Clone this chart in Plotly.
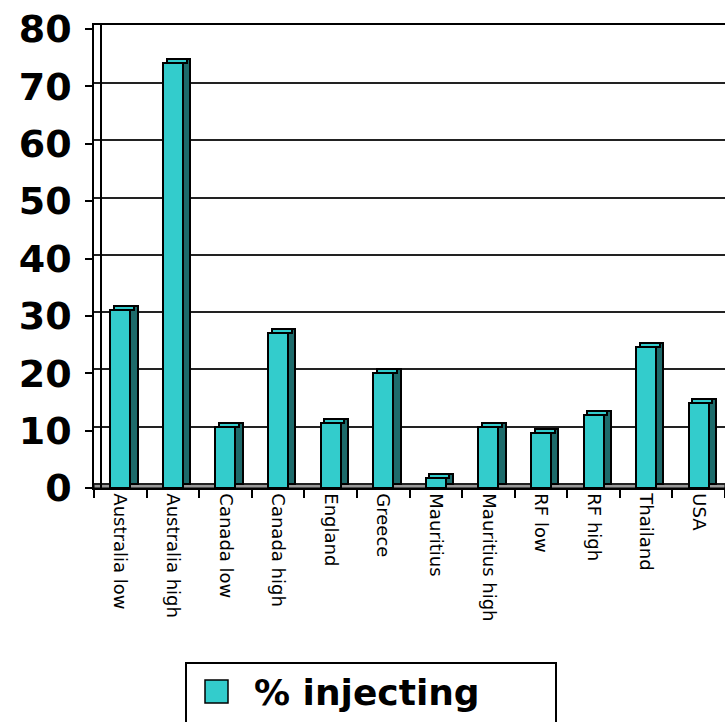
import plotly.graph_objects as go

# Share of people who inject, by site
categories = ["Australia low", "Australia high", "Canada low", "Canada high",
              "England", "Greece", "Mauritius", "Mauritius high",
              "RF low", "RF high", "Thailand", "USA"]
pct_injecting = [31.0, 74.1, 10.7, 27.1, 11.4, 20.0, 1.8, 10.7, 9.6, 12.7, 24.5, 14.9]
y_ticks = [0, 10, 20, 30, 40, 50, 60, 70, 80]
series_name = "% injecting"

FACE = "#33CCCC"
SIDE = "#1D6B6B"
EDGE = "black"

BAR_W = 0.38          # front face width, in category units
DEPTH_X = 0.14        # horizontal depth of the pseudo-3D columns
DEPTH_Y = 0.7         # vertical depth of the pseudo-3D columns (data units)
n = len(categories)

fig = go.Figure()

# empty trace so the back-wall axis (y2) gets drawn with its gridlines
fig.add_trace(go.Scatter(x=[], y=[], yaxis="y2", mode="markers",
                         showlegend=False, hoverinfo="skip"))

# back/side face (dark), shifted right and up
fig.add_trace(go.Bar(
    x=categories, y=pct_injecting, base=[DEPTH_Y] * n,
    offset=-BAR_W / 2 + DEPTH_X, width=BAR_W,
    marker=dict(color=SIDE, line=dict(color=EDGE, width=2)),
    showlegend=False, hoverinfo="skip",
))
# top face
fig.add_trace(go.Bar(
    x=categories, y=[DEPTH_Y] * n, base=pct_injecting,
    offset=-BAR_W / 2 + DEPTH_X / 2, width=BAR_W,
    marker=dict(color=FACE, line=dict(color=EDGE, width=2)),
    showlegend=False, hoverinfo="skip",
))
# front face
fig.add_trace(go.Bar(
    x=categories, y=pct_injecting,
    offset=-BAR_W / 2, width=BAR_W,
    marker=dict(color=FACE, line=dict(color=EDGE, width=2)),
    name=series_name, showlegend=False,
))

W, H = 725, 722
ML, MR, MT, MB = 94, 0, 25, 234
plot_w = W - ML - MR
plot_h = H - MT - MB


def px_x(px):
    return (px - ML) / plot_w


def px_y(py):
    return (H - MB - py) / plot_h


shapes = [
    # floor strip of the pseudo-3D box
    dict(type="rect", xref="paper", yref="y", x0=0, x1=1, y0=0, y1=DEPTH_Y,
         fillcolor="#9a9a9a", line=dict(color=EDGE, width=1), layer="below"),
    # legend frame
    dict(type="rect", xref="paper", yref="paper",
         x0=px_x(186), x1=px_x(556), y0=px_y(740), y1=px_y(663),
         line=dict(color=EDGE, width=2), fillcolor="white"),
    # legend swatch
    dict(type="rect", xref="paper", yref="paper",
         x0=px_x(205), x1=px_x(228), y0=px_y(703), y1=px_y(680),
         line=dict(color=EDGE, width=1.5), fillcolor=FACE),
]

annotations = [
    dict(text=series_name, xref="paper", yref="paper",
         x=px_x(252), y=px_y(692), xanchor="left", yanchor="middle",
         showarrow=False,
         font=dict(family="DejaVu Sans", size=36, color="black", weight="bold")),
]

fig.update_layout(
    width=W, height=H,
    margin=dict(l=ML, r=MR, t=MT, b=MB, pad=0),
    paper_bgcolor="white", plot_bgcolor="white",
    barmode="overlay", bargap=0,
    showlegend=False,
    xaxis=dict(
        type="category", categoryorder="array", categoryarray=categories,
        range=[-0.5, n - 0.5],
        showline=True, mirror=True, linecolor=EDGE, linewidth=1.5,
        ticks="outside", ticklen=8, tickwidth=1.5, tickcolor=EDGE,
        tickson="boundaries", tickangle=90,
        tickfont=dict(family="DejaVu Sans", size=18, color="black"),
        showgrid=False, zeroline=False,
    ),
    yaxis=dict(
        range=[0, 80.7], tickvals=y_ticks,
        showline=True, linecolor=EDGE, linewidth=1.5,
        ticks="outside", ticklen=7, tickwidth=1.5, tickcolor=EDGE,
        ticklabelstandoff=6,
        tickfont=dict(family="DejaVu Sans", size=38, color="black", weight="bold"),
        showgrid=False, zeroline=False,
    ),
    # back wall: gridlines sit slightly higher than the front axis ticks
    yaxis2=dict(
        overlaying="y", anchor="free", position=px_x(101), side="left",
        range=[-DEPTH_Y, 80.15], tickvals=y_ticks, showticklabels=False,
        ticks="", showline=True, linecolor=EDGE, linewidth=1.5,
        showgrid=True, gridcolor="#222222", gridwidth=1.5, zeroline=False,
    ),
    shapes=shapes,
    annotations=annotations,
)

fig.write_html("out.html")
